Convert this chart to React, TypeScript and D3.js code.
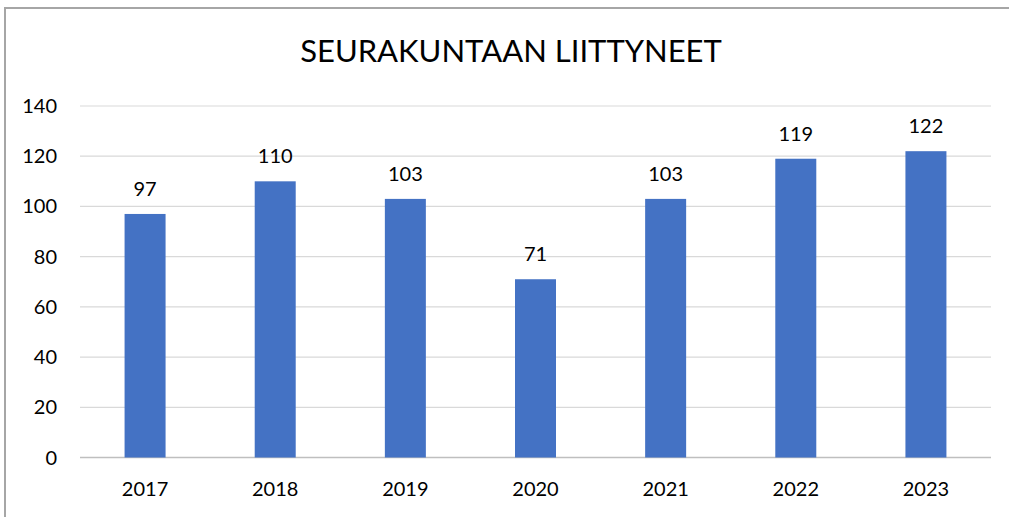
import React from 'react';
import * as d3 from 'd3';

const years = ['2017', '2018', '2019', '2020', '2021', '2022', '2023'];
const joined = [97, 110, 103, 71, 103, 119, 122];
const yTicks = [0, 20, 40, 60, 80, 100, 120, 140];

const width = 1009;
const height = 517;
const plotLeft = 80;
const plotRight = 991;
const plotTop = 106;
const plotBottom = 457.5;
const font = 'Lato, "Open Sans", sans-serif';

const App = () => {
  const x = d3
    .scaleBand()
    .domain(years)
    .range([plotLeft, plotRight])
    .paddingInner(0.685)
    .paddingOuter(0.3425);

  const y = d3.scaleLinear().domain([0, 140]).range([plotBottom, plotTop]);

  return (
    <svg
      width={width}
      height={height}
      style={{ position: 'absolute', left: 0, top: 0, background: '#fff' }}
    >
      {/* chart frame, runs off the right and bottom edges */}
      <rect x={5} y={8} width={width + 10} height={height + 10} fill="#fff" stroke="#a6a6a6" strokeWidth={2} />

      <text x={511} y={62} textAnchor="middle" fontFamily={font} fontSize={31} fill="#000">
        SEURAKUNTAAN LIITTYNEET
      </text>

      {yTicks.map((t) => (
        <g key={t}>
          <line
            x1={plotLeft}
            x2={plotRight}
            y1={y(t)}
            y2={y(t)}
            stroke={t === 0 ? '#bfbfbf' : '#d9d9d9'}
            strokeWidth={t === 0 ? 1.5 : 1.2}
          />
          <text x={57} y={y(t) + 7} textAnchor="end" fontFamily={font} fontSize={20} fill="#000">
            {t}
          </text>
        </g>
      ))}

      {years.map((yr, i) => (
        <g key={yr}>
          <rect
            x={x(yr)}
            y={y(joined[i])}
            width={x.bandwidth()}
            height={plotBottom - y(joined[i])}
            fill="#4472c4"
          />
          <text
            x={x(yr)! + x.bandwidth() / 2}
            y={y(joined[i]) - 18}
            textAnchor="middle"
            fontFamily={font}
            fontSize={20}
            fill="#000"
          >
            {joined[i]}
          </text>
          <text
            x={x(yr)! + x.bandwidth() / 2}
            y={496}
            textAnchor="middle"
            fontFamily={font}
            fontSize={20}
            fill="#000"
          >
            {yr}
          </text>
        </g>
      ))}
    </svg>
  );
};

export default App;
